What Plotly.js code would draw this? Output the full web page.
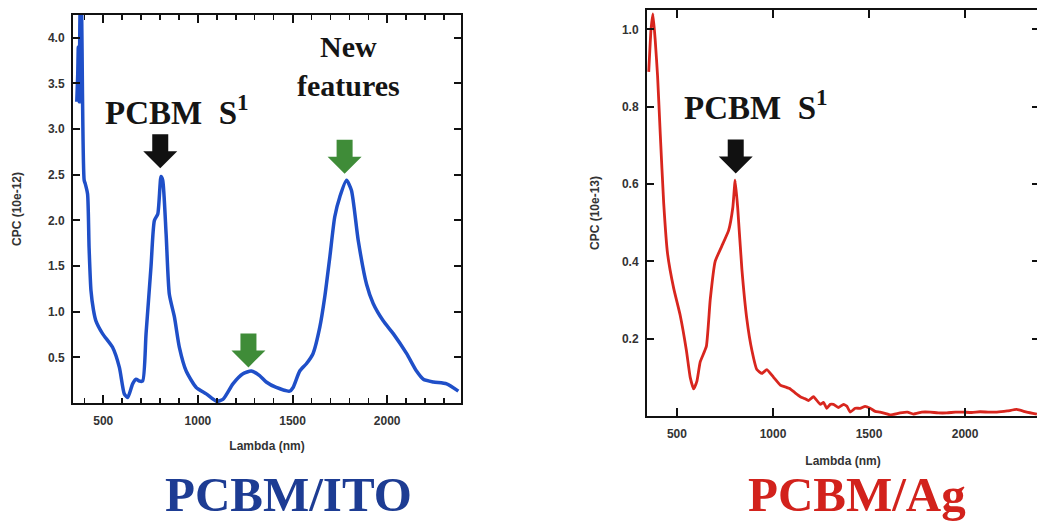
<!DOCTYPE html>
<html>
<head>
<meta charset="utf-8">
<script src="https://cdn.plot.ly/plotly-3.0.1.min.js"></script>
<style>
html,body{margin:0;padding:0;overflow:hidden;background:#fff;width:1037px;height:524px;}
#chart{width:1045px;height:524px;}
</style>
</head>
<body>
<div id="chart"></div>
<script>
// ---- Data: PCBM/ITO (blue) ----
const itoLambda = [360, 365, 368, 372, 376, 380, 385, 390, 399, 405, 417, 425, 435, 448, 461, 496, 549, 585, 611, 629, 655, 673, 691, 708, 726, 752, 770, 788, 805, 814, 832, 849, 876, 902, 938, 991, 1044, 1097, 1132, 1185, 1238, 1282, 1326, 1361, 1414, 1485, 1503, 1538, 1573, 1608, 1644, 1670, 1697, 1723, 1750, 1785, 1811, 1847, 1891, 1926, 1979, 2032, 2103, 2155, 2191, 2244, 2314, 2376];
const itoCPC    = [3.3, 3.6, 3.9, 3.3, 4.1, 4.6, 4.4, 3.4, 2.44, 2.4, 2.29, 1.7, 1.23, 1.02, 0.90, 0.76, 0.61, 0.39, 0.10, 0.06, 0.21, 0.26, 0.24, 0.24, 0.76, 1.49, 2.0, 2.07, 2.48, 2.44, 1.85, 1.19, 0.94, 0.61, 0.35, 0.17, 0.10, 0.02, 0.04, 0.21, 0.32, 0.35, 0.30, 0.23, 0.17, 0.13, 0.17, 0.35, 0.43, 0.54, 0.83, 1.16, 1.60, 2.04, 2.26, 2.44, 2.33, 1.78, 1.30, 1.09, 0.90, 0.76, 0.54, 0.35, 0.26, 0.23, 0.21, 0.13];

// ---- Data: PCBM/Ag (red) ----
const agLambda = [353, 365, 375, 387, 399, 413, 431, 451, 483, 517, 549, 569, 587, 604, 621, 653, 673, 699, 734, 769, 791, 803, 816, 838, 864, 890, 916, 942, 968, 1003, 1038, 1065, 1090, 1115, 1142, 1165, 1185, 1211, 1246, 1263, 1280, 1298, 1315, 1340, 1367, 1385, 1402, 1428, 1454, 1480, 1506, 1532, 1558, 1610, 1662, 1700, 1731, 1775, 1818, 1860, 1905, 1950, 1991, 2035, 2078, 2120, 2165, 2220, 2269, 2321, 2374];
const agCPC    = [0.89, 1.0, 1.04, 0.97, 0.88, 0.73, 0.55, 0.42, 0.33, 0.26, 0.17, 0.10, 0.07, 0.09, 0.14, 0.18, 0.30, 0.40, 0.44, 0.48, 0.54, 0.61, 0.54, 0.38, 0.25, 0.17, 0.12, 0.11, 0.12, 0.10, 0.08, 0.075, 0.07, 0.06, 0.05, 0.045, 0.04, 0.05, 0.03, 0.035, 0.02, 0.03, 0.03, 0.022, 0.03, 0.025, 0.01, 0.02, 0.02, 0.025, 0.02, 0.012, 0.01, 0.003, 0.008, 0.01, 0.005, 0.01, 0.01, 0.008, 0.008, 0.01, 0.01, 0.009, 0.011, 0.01, 0.01, 0.013, 0.017, 0.01, 0.005];

// ---- Tick labels ----
const xTickVals = [500, 1000, 1500, 2000];
const itoYTicks = [0.5, 1.0, 1.5, 2.0, 2.5, 3.0, 3.5, 4.0];
const agYTicks  = [0.2, 0.4, 0.6, 0.8, 1.0];

// ---- Arrow annotation anchors (tip positions, data coords) ----
const itoArrows = [
  {x: 801, y: 2.57, color: '#111111'},
  {x: 1775, y: 2.51, color: '#3f8c38'},
  {x: 1267, y: 0.39, color: '#3f8c38'}
];
const agArrows = [
  {x: 806, y: 0.627, color: '#111111'}
];

const W = 1045, H = 524;
const px = v => v / W;
const py = v => 1 - v / H;

const tickFont = {family: 'Liberation Sans, Arial, sans-serif', size: 12, color: '#333', weight: 'bold'};
const titleFont = {family: 'Liberation Sans, Arial, sans-serif', size: 12, color: '#333', weight: 'bold'};

function xAxis(domain, range, anchor, standoff, minor) {
  const ax = {
    domain: domain, range: range, anchor: anchor,
    tickmode: 'array', tickvals: xTickVals, ticktext: xTickVals.map(String),
    ticks: 'inside', ticklen: 8, tickwidth: 2, tickcolor: '#111',
    showline: true, linecolor: '#111', linewidth: 2, mirror: 'ticks',
    showgrid: false, zeroline: false,
    tickfont: tickFont, ticklabelstandoff: 6,
    title: {text: 'Lambda (nm)', font: titleFont, standoff: standoff}
  };
  if (minor) ax.minor = {ticks: 'inside', ticklen: 5, tickwidth: 1.5, tickcolor: '#111', tickmode: 'linear', dtick: 100, tick0: 0, showgrid: false};
  return ax;
}
function yAxis(domain, range, vals, title, anchor, standoff) {
  return {
    domain: domain, range: range, anchor: anchor,
    tickmode: 'array', tickvals: vals, ticktext: vals.map(v => v.toFixed(1)),
    ticks: 'inside', ticklen: 7, tickwidth: 2, tickcolor: '#111',
    showline: true, linecolor: '#111', linewidth: 2, mirror: 'ticks',
    showgrid: false, zeroline: false,
    tickfont: tickFont, ticklabelstandoff: 4,
    title: {text: title, font: titleFont, standoff: standoff}
  };
}

const traces = [
  {x: itoLambda, y: itoCPC, xaxis: 'x', yaxis: 'y', mode: 'lines',
   line: {color: '#1f4fc8', width: 3.5, shape: 'spline', smoothing: 0.6}, hoverinfo: 'skip'},
  {x: agLambda, y: agCPC, xaxis: 'x2', yaxis: 'y2', mode: 'lines',
   line: {color: '#d8261e', width: 2.8, shape: 'spline', smoothing: 0.4}, hoverinfo: 'skip'}
];

function arrowShape(a, xref, yref) {
  return {
    type: 'path', xref: xref, yref: yref,
    xsizemode: 'pixel', ysizemode: 'pixel', xanchor: a.x, yanchor: a.y,
    path: 'M -8 34 L 8 34 L 8 17 L 17 17 L 0 0 L -17 17 L -8 17 Z',
    fillcolor: a.color, line: {width: 0}, layer: 'above'
  };
}

const shapes = itoArrows.map(a => arrowShape(a, 'x', 'y'))
  .concat(agArrows.map(a => arrowShape(a, 'x2', 'y2')));

const serif = 'Liberation Serif, Times New Roman, serif';
function label(x, y, text, size, color) {
  return {xref: 'paper', yref: 'paper', x: px(x), y: py(y), xanchor: 'center', yanchor: 'middle',
    text: text, showarrow: false, font: {family: serif, size: size, color: color, weight: 'bold'}};
}
const annotations = [
  label(177, 110, 'PCBM\u00a0\u00a0S<sup>1</sup>', 33, '#151515'),
  label(348, 66, 'New<br>features', 30, '#151515'),
  label(756, 105, 'PCBM\u00a0\u00a0S<sup>1</sup>', 33, '#151515'),
  label(288, 494, 'PCBM/ITO', 49, '#1d3c93'),
  label(857, 494, 'PCBM/Ag', 49, '#d2221c')
];

const layout = {
  width: W, height: H,
  margin: {l: 0, r: 0, t: 0, b: 0},
  paper_bgcolor: '#ffffff', plot_bgcolor: '#ffffff',
  showlegend: false,
  xaxis: xAxis([px(73), px(461)], [340, 2390], 'y', 14, true),
  yaxis: yAxis([py(403), py(15)], [0, 4.25], itoYTicks, 'CPC (10e-12)', 'x', 24),
  xaxis2: xAxis([px(647), px(1039)], [344, 2385], 'y2', 16, false),
  yaxis2: yAxis([py(416), py(10)], [0, 1.05], agYTicks, 'CPC (10e-13)', 'x2', 20),
  shapes: shapes,
  annotations: annotations
};

Plotly.newPlot('chart', traces, layout, {displayModeBar: false, staticPlot: true});
</script>
</body>
</html>
